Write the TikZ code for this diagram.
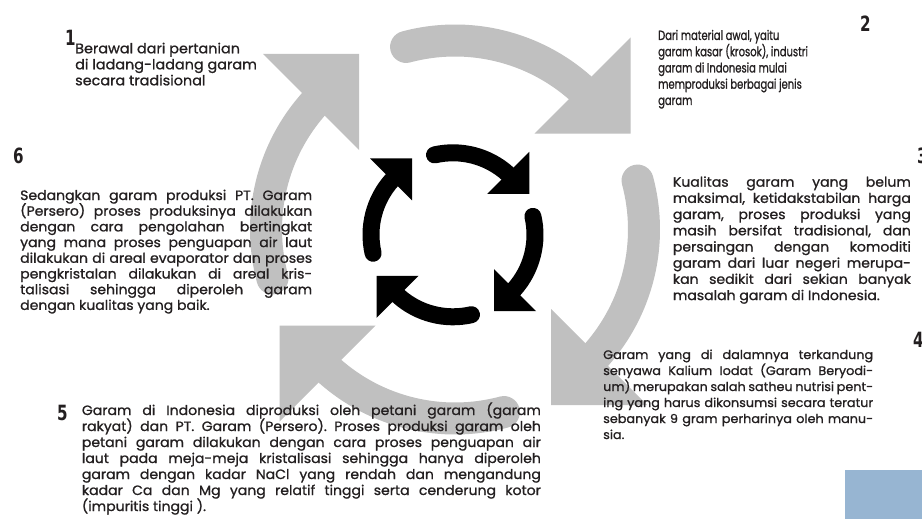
\documentclass[tikz,border=0pt]{standalone}
\usepackage{fontspec}
\usepackage{graphicx}
\usetikzlibrary{calc}
\setmainfont{Poppins}[FakeStretch=1.04,FakeBold=1]
\newfontfamily\condfont{Poppins}[FakeStretch=0.75,FakeBold=1]
\newfontfamily\numfont{DejaVu Sans Condensed}
\newcommand\jl[2]{\makebox[#1][s]{#2}}
\newcommand\tight{\lineskiplimit=-100pt\relax}
\frenchspacing
\definecolor{arrgray}{RGB}{192,192,192}
\definecolor{txtc}{RGB}{35,31,32}
\definecolor{boxblue}{RGB}{151,181,210}
\begin{document}
\begin{tikzpicture}[x=1pt,y=-1pt,
  garc/.style={draw=arrgray, line width=32pt, line cap=round},
  ghead/.style={fill=arrgray},
  barc/.style={draw=black, line width=17pt, line cap=round},
  bhead/.style={fill=black},
  txt/.style={inner sep=0pt, anchor=base west, text=txtc},
  num/.style={inner sep=0pt, anchor=base west, text=txtc, font=\numfont\bfseries\fontsize{21}{21}\selectfont}]
\useasboundingbox (0,0) rectangle (922,519);
\fill[white] (0,0) rectangle (922,519);
\coordinate (C) at (455,229.5);
\coordinate (B) at (453,234.8);
% big gray cycle arrows
\foreach \k in {0,1,2,3}{
  \begin{scope}[shift={(C)}, rotate=-90*\k]
    \draw[garc] (165:189) arc[start angle=165, end angle=222, radius=189];
    \fill[ghead] (-96,-175.5) -- ++(-96,0) -- ++(96,96) -- cycle;
  \end{scope}
}
% small black cycle arrows
\foreach \k in {0,1,2,3}{
  \begin{scope}[shift={(B)}, rotate=-90*\k]
    \draw[barc] (167:82) arc[start angle=167, end angle=222, radius=82];
    \fill[bhead] (-41,-76.4) -- ++(-42,0) -- ++(42,42) -- cycle;
  \end{scope}
}
% blue box
\fill[boxblue] (845,470) rectangle (922,519);
% numbers
\node[num] (n1) at (65,46) {\scalebox{0.8}[1]{1}};
\node[num] (n2) at (860,32) {\scalebox{0.8}[1]{2}};
\node[num] (n3) at (917,163) {\scalebox{0.8}[1]{3}};
\node[num] (n4) at (913,347) {\scalebox{0.8}[1]{4}};
\node[num] (n5) at (57,420) {\scalebox{0.8}[1]{5}};
\node[num] (n6) at (13,163) {\scalebox{0.8}[1]{6}};
% texts
\node[txt] (t1) at (75,53.3) {\parbox[t]{260pt}{\fontsize{13.85}{16}\selectfont\tight\raggedright
Berawal dari pertanian\\di ladang-ladang garam\\secara tradisional}};
\node[txt] (t2) at (658,40) {\parbox[t]{250pt}{\condfont\fontsize{13.3}{16.25}\selectfont\tight\raggedright
Dari material awal, yaitu\\garam kasar (krosok), industri\\garam di Indonesia mulai\\memproduksi berbagai jenis\\garam}};
\node[txt] (t3) at (672.7,186.7) {\parbox[t]{238pt}{\fontsize{13.5}{16.2}\selectfont\tight
\jl{238pt}{Kualitas garam yang belum}\\
\jl{238pt}{maksimal, ketidakstabilan harga}\\
\jl{238pt}{garam, proses produksi yang}\\
\jl{238pt}{masih bersifat tradisional, dan}\\
\jl{238pt}{persaingan dengan komoditi}\\
\jl{238pt}{garam dari luar negeri merupa-}\\
\jl{238pt}{kan sedikit dari sekian banyak}\\
masalah garam di Indonesia.}};
\node[txt] (t4) at (603,359) {\parbox[t]{270pt}{\fontsize{12.3}{16}\selectfont\tight
\jl{270pt}{Garam yang di dalamnya terkandung}\\
\jl{270pt}{senyawa Kalium Iodat (Garam Beryodi-}\\
\jl{270pt}{um) merupakan salah satheu nutrisi pent-}\\
\jl{270pt}{ing yang harus dikonsumsi secara teratur}\\
\jl{270pt}{sebanyak 9 gram perharinya oleh manu-}\\
sia.}};
\node[txt] (t5) at (81.7,415) {\parbox[t]{459pt}{\fontsize{13.5}{16}\selectfont\tight
\jl{459pt}{Garam di Indonesia diproduksi oleh petani garam (garam}\\
\jl{459pt}{rakyat) dan PT. Garam (Persero). Proses produksi garam oleh}\\
\jl{459pt}{petani garam dilakukan dengan cara proses penguapan air}\\
\jl{459pt}{laut pada meja-meja kristalisasi sehingga hanya diperoleh}\\
\jl{459pt}{garam dengan kadar NaCl yang rendah dan mengandung}\\
\jl{459pt}{kadar Ca dan Mg yang relatif tinggi serta cenderung kotor}\\
(impuritis tinggi ).}};
\node[txt] (t6) at (20,200) {\parbox[t]{292pt}{\fontsize{13.5}{15.7}\selectfont\tight
\jl{292pt}{Sedangkan garam produksi PT. Garam}\\
\jl{292pt}{(Persero) proses produksinya dilakukan}\\
\jl{292pt}{dengan cara pengolahan bertingkat}\\
\jl{292pt}{yang mana proses penguapan air laut}\\
\jl{292pt}{dilakukan di areal evaporator dan proses}\\
\jl{292pt}{pengkristalan dilakukan di areal kris-}\\
\jl{292pt}{talisasi sehingga diperoleh garam}\\
dengan kualitas yang baik.}};
\end{tikzpicture}
\end{document}
